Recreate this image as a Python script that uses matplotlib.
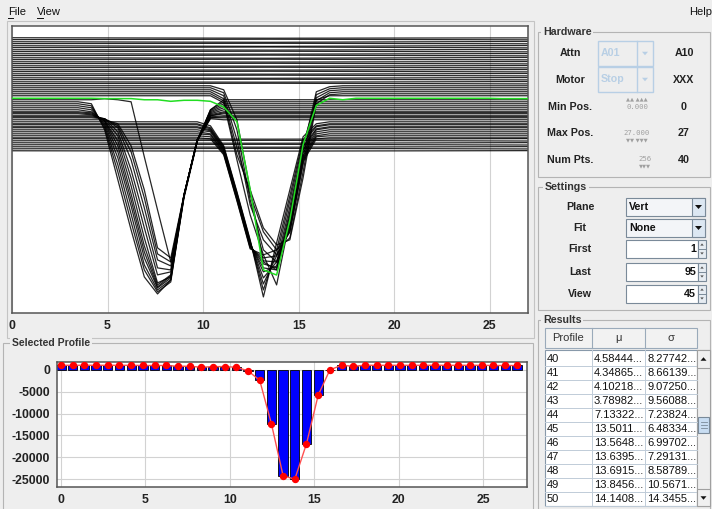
import numpy as np
import matplotlib
matplotlib.use('Agg')
import matplotlib.pyplot as plt
from matplotlib.patches import Rectangle, Polygon
from matplotlib.lines import Line2D

# ---------------- data ----------------
min_pos, max_pos, num_pts = 0.0, 27.0, 40
positions = np.linspace(min_pos, max_pos, num_pts)

# selected profile (View = 45), counts per position
selected_profile = [1050, 1050, 1050, 1050, 1050, 1050, 1050, 1000, 1000, 1000,
                    830, 830, 600, 750, 750, 600, -230, -2400, -12350, -24250,
                    -25000, -16900, -5800, 0, 1050, 830, 1050, 1050, 1050, 1050,
                    1050, 1050, 1050, 1050, 1050, 1050, 1050, 1000, 1000, 1000]

# profiles without a dip: level read at left edge, middle and right edge
flat_x = [min_pos, (min_pos + max_pos) / 2, max_pos]
flat_left = [9970, 9690, 9380, 9100, 8790, 8510, 8200, 7920, 7610, 7330, 7020, 6740,
             6430, 6150, 5840, 5560, 5250, 4970, 4660, 4380, 4070, 3790, 3480, 3200,
             -4920, -5220, -5510, -5810, -6100, -6400, -6690]
flat_mid = [9900, 9750, 9300, 9150, 8700, 8600, 8150, 7980, 7550, 7400, 6950, 6800,
            6380, 6200, 5780, 5620, 5200, 5030, 4600, 4450, 4000, 3850, 3420, 3260,
            -4980, -5150, -5580, -5740, -6160, -6330, -6740]
flat_right = [9950, 9660, 9420, 9080, 8820, 8480, 8240, 7890, 7640, 7300, 7060, 6710,
              6460, 6120, 5870, 5530, 5280, 4940, 4700, 4350, 4100, 3760, 3510, 3170,
              -4900, -5250, -5490, -5840, -6080, -6420, -6670]

# profiles with a dip near position 7.6 : baseline, values at points 6..15
dip1_start = 6
dip1_base = [530, 240, -60, -350, -650, -940, -1090, -1240, -1530, -1680, -1830, -2120, 830]
dip1_vals = [
    [240, -3600, -10970, -18350, -25280, -27790, -25720, -13630, -5370, -650],
    [-60, -3300, -9790, -17170, -24250, -27490, -26020, -13480, -5220, -790],
    [-350, -3010, -8760, -15990, -23510, -27200, -25720, -13330, -5070, -940],
    [-650, -2710, -7730, -14810, -22480, -26900, -25430, -13330, -5220, -1090],
    [-940, -2420, -6840, -13920, -21590, -26750, -25130, -13180, -5070, -1240],
    [-1090, -2270, -5960, -13040, -20710, -26460, -24980, -13180, -5220, -1380],
    [-1240, -2270, -5220, -11860, -19530, -26160, -25280, -13330, -5070, -1530],
    [-1380, -2120, -4480, -10680, -18050, -24980, -24540, -13180, -5220, -1530],
    [-1530, -1970, -3890, -9500, -16580, -23950, -24250, -13330, -5070, -1680],
    [-1680, -1970, -3300, -8020, -15100, -22770, -23660, -13180, -5220, -1830],
    [-1830, -1970, -3010, -6840, -13630, -21890, -23070, -13330, -5070, -1830],
    [-2120, -2120, -2710, -5960, -12450, -21000, -22480, -13180, -5220, -1970],
    [830, 980, 830, 530, -7580, -15400, -23070, -13330, -5220, -650],
]

# profiles with a dip near position 13.5 : baseline, values at points 15..24
dip2_start = 15
dip2_base = [2890, 2600, 2300, 2010, 1710, 1420,
             -2420, -2710, -2860, -3150, -3300, -3600, -3890, -4190, -4480, -4780]
dip2_vals = [
    [2890, 2300, -2120, -12450, -23070, -24250, -16130, -6550, 2010, 2750],
    [2600, 1860, -3600, -13920, -21300, -23070, -17610, -7730, 1570, 2450],
    [2300, 1420, -5070, -14660, -19820, -22030, -18640, -8760, 1120, 2160],
    [2010, 980, -6250, -13180, -18640, -21300, -19530, -9790, 680, 1860],
    [1710, 680, -7280, -12450, -18050, -20560, -19820, -10680, 240, 1570],
    [1420, 390, -8020, -16130, -22030, -26460, -16870, -5810, 830, 1420],
    [-3010, -5960, -12740, -19820, -28230, -20260, -12450, -4630, -2710, -2420],
    [-3300, -6100, -12890, -19970, -27200, -21300, -13330, -5070, -3010, -2710],
    [-3450, -6250, -13040, -20120, -26310, -22180, -14070, -5510, -3150, -2860],
    [-3600, -6400, -13180, -20260, -25430, -23070, -14950, -6100, -3450, -3150],
    [-3740, -6550, -13330, -20410, -24540, -23660, -15690, -6550, -3600, -3300],
    [-3890, -6690, -13480, -20560, -23950, -24250, -16580, -6990, -3890, -3600],
    [-4190, -6840, -13630, -20710, -23360, -23950, -17460, -7430, -4190, -3890],
    [-4330, -6990, -13770, -20850, -22920, -23070, -18050, -7730, -4480, -4190],
    [-4630, -7140, -13920, -21000, -22480, -22180, -18350, -8020, -4630, -4480],
    [-4920, -7280, -14070, -21150, -22030, -21300, -18640, -8320, -4920, -4780],
]

top_xticks = [0, 5, 10, 15, 20, 25]
bot_yticks = [0, -5000, -10000, -15000, -20000, -25000]
bot_ylabels = ['0', '-5000', '-10000', '-15000', '-20000', '-25000']

# GUI texts
hw_labels = ['Attn', 'Motor', 'Min Pos.', 'Max Pos.', 'Num Pts.']
hw_values = ['A10', 'XXX', '0', '27', '40']
hw_combo = ['A01', 'Stop']
hw_spin = ['0.000', '27.000', '256']
set_labels = ['Plane', 'Fit', 'First', 'Last', 'View']
set_values = ['Vert', 'None', '1', '95', '45']
res_headers = ['Profile', 'μ', 'σ']
res_profile = ['40', '41', '42', '43', '44', '45', '46', '47', '48', '49', '50']
res_mu = ['4.58444...', '4.34865...', '4.10218...', '3.78982...', '7.13322...', '13.5011...',
          '13.5648...', '13.6395...', '13.6915...', '13.8456...', '14.1408...']
res_sigma = ['8.27742...', '8.66139...', '9.07250...', '9.56088...', '7.23824...', '6.48334...',
             '6.99702...', '7.29131...', '8.58789...', '10.5671...', '14.3455...']

# ---------------- figure helpers ----------------
W, H = 712, 509
BG = '#EEEEEE'
FONT = ['Liberation Sans', 'DejaVu Sans']
plt.rcParams['font.family'] = FONT
plt.rcParams['axes.unicode_minus'] = False

fig = plt.figure(figsize=(W / 100, H / 100), dpi=100, facecolor=BG)


def FX(x):
    return x / W


def FY(y):
    return 1 - y / H


def box(x0, y0, x1, y1, fc='none', ec='#A8A8A8', lw=0.8, z=1):
    fig.add_artist(Rectangle((FX(x0), FY(y1)), (x1 - x0) / W, (y1 - y0) / H,
                             transform=fig.transFigure, facecolor=fc, edgecolor=ec,
                             linewidth=lw, zorder=z))


def line(xs, ys, color, lw=0.8, z=2):
    fig.add_artist(Line2D([FX(x) for x in xs], [FY(y) for y in ys],
                          transform=fig.transFigure, color=color, lw=lw, zorder=z))


def txt(x, y, s, size=7.7, weight='bold', color='#222222', ha='left', va='center',
        z=5, bg=None, family=None):
    kw = {}
    if bg is not None:
        kw['bbox'] = dict(facecolor=bg, edgecolor='none', pad=1.2)
    fig.text(FX(x), FY(y), s, fontsize=size, fontweight=weight, color=color, ha=ha,
             va=va, zorder=z, family=family or FONT, **kw)


def tri(cx, cy, w, h, color, up=False, z=6):
    if up:
        pts = [(cx - w / 2, cy + h / 2), (cx + w / 2, cy + h / 2), (cx, cy - h / 2)]
    else:
        pts = [(cx - w / 2, cy - h / 2), (cx + w / 2, cy - h / 2), (cx, cy + h / 2)]
    fig.add_artist(Polygon([(FX(a), FY(b)) for a, b in pts], closed=True,
                           transform=fig.transFigure, facecolor=color,
                           edgecolor='none', zorder=z))


# ---------------- menu ----------------
txt(8, 12, 'File', size=8, weight='normal', color='#111111')
line([8, 13], [17.5, 17.5], '#111111', lw=0.7)
txt(37, 12, 'View', size=8, weight='normal', color='#111111')
line([37, 43], [17.5, 17.5], '#111111', lw=0.7)
txt(689, 12, 'Help', size=8, weight='normal', color='#111111')

# ---------------- panels ----------------
box(7, 21, 534, 338, ec='#C4C4C4')
box(3, 343, 533, 515, ec='#B4B4B4')
txt(12, 343, 'Selected Profile', size=7.5, color='#333333', bg=BG)

# ---------------- top chart ----------------
LW, AL = 0.9, 0.85
ax1 = fig.add_axes([FX(12), FY(313), (528 - 12) / W, (313 - 26) / H])
ax1.set_facecolor('white')
ax1.set_xlim(min_pos, max_pos)
ax1.set_ylim(-30600, 11700)
for l, m, r in zip(flat_left, flat_mid, flat_right):
    ax1.plot(flat_x, [l, m, r], color='black', lw=LW, alpha=AL, zorder=2)
for b, seg in zip(dip1_base, dip1_vals):
    vals = [b] * num_pts
    vals[dip1_start:dip1_start + len(seg)] = seg
    ax1.plot(positions, vals, color='black', lw=LW, alpha=AL, zorder=2)
for b, seg in zip(dip2_base, dip2_vals):
    vals = [b] * num_pts
    vals[dip2_start:dip2_start + len(seg)] = seg
    ax1.plot(positions, vals, color='black', lw=LW, alpha=AL, zorder=2)
ax1.plot(positions, selected_profile, color='#22DD22', lw=1.1, zorder=3)
ax1.set_xticks(top_xticks)
ax1.set_xticklabels([str(t) for t in top_xticks], fontsize=8.8, fontweight='bold')
ax1.set_yticks([])
ax1.tick_params(axis='x', length=0, pad=5, colors='#222222')
ax1.grid(axis='x', color='#D2D2D2', lw=0.8)
ax1.set_axisbelow(True)
for sp in ax1.spines.values():
    sp.set_color('#555555')
    sp.set_linewidth(1.1)

# ---------------- bottom chart ----------------
ax2 = fig.add_axes([FX(57), FY(487), (527 - 57) / W, (487 - 362) / H])
ax2.set_facecolor('white')
ax2.bar(positions, selected_profile, width=0.55, color='#0000FF', edgecolor='black',
        linewidth=0.6, zorder=2)
ax2.plot(positions, selected_profile, color='#FF5050', lw=1.0, marker='o', ms=4.3,
         mfc='#FF0000', mec='#FF0000', zorder=3)
ax2.set_xlim(-0.24, 27.6)
ax2.set_ylim(-26800, 1800)
ax2.set_xticks(top_xticks)
ax2.set_xticklabels([str(t) for t in top_xticks], fontsize=8.8, fontweight='bold')
ax2.set_yticks(bot_yticks)
ax2.set_yticklabels(bot_ylabels, fontsize=8.8, fontweight='bold')
ax2.tick_params(length=0, pad=5, colors='#222222')
ax2.grid(color='#D2D2D2', lw=0.8)
ax2.set_axisbelow(True)
for sp in ax2.spines.values():
    sp.set_color('#555555')
    sp.set_linewidth(1.1)

# ---------------- Hardware panel ----------------
box(538, 32, 710, 177, ec='#B4B4B4')
txt(543, 32, 'Hardware', color='#333333', bg=BG)
row_y = [53, 80, 107, 133, 160]
for lab, val, y in zip(hw_labels, hw_values, row_y):
    txt(570, y, lab, ha='center')
    txt(684, y, val, ha='center')
for s, (y0, y1) in zip(hw_combo, [(41, 66), (67, 92)]):
    box(598, y0, 653, y1, fc=BG, ec='#B8CFE5', lw=1.0, z=2)
    line([637, 637], [y0, y1], '#B8CFE5', lw=1.0, z=3)
    txt(601, (y0 + y1) / 2, s, color='#B8CFE5', size=7.7)
    tri(645, (y0 + y1) / 2, 6, 3.5, '#B8CFE5')
mono = ['DejaVu Sans Mono']
txt(637, 99, '▲▲ ▲▲▲', size=3.8, weight='normal', color='#A0A0A0', ha='center', family=['DejaVu Sans'])
txt(637, 107, hw_spin[0], size=5.2, weight='normal', color='#A0A0A0', ha='center', family=mono)
txt(637, 133, hw_spin[1], size=5.2, weight='normal', color='#A0A0A0', ha='center', family=mono)
txt(637, 140, '▼▼ ▼▼▼', size=3.8, weight='normal', color='#A0A0A0', ha='center', family=['DejaVu Sans'])
txt(645, 159, hw_spin[2], size=5.2, weight='normal', color='#A0A0A0', ha='center', family=mono)
txt(645, 166, '▼▼▼', size=3.8, weight='normal', color='#A0A0A0', ha='center', family=['DejaVu Sans'])

# ---------------- Settings panel ----------------
box(538, 187, 710, 310, ec='#B4B4B4')
txt(545, 187, 'Settings', color='#333333', bg=BG)
set_rows = [(198, 216), (219, 237), (240, 258), (263, 281), (285, 303)]
for i, (lab, val, (y0, y1)) in enumerate(zip(set_labels, set_values, set_rows)):
    yc = (y0 + y1) / 2
    txt(580, yc, lab, ha='center')
    if i < 2:
        box(626, y0, 705, y1, fc='#F3F5F8', ec='#7A8A99', z=2)
        box(692, y0, 705, y1, fc='#DCE7F2', ec='#7A8A99', z=3)
        tri(698.5, yc, 7, 4, '#111111')
        txt(629, yc, val, color='#111111')
    else:
        box(626, y0, 698, y1, fc='white', ec='#7A8A99', z=2)
        box(698, y0, 706, y1, fc='#E6ECF2', ec='#7A8A99', z=3)
        line([698, 706], [yc, yc], '#7A8A99', lw=0.7, z=4)
        tri(702, y0 + 4.5, 3.5, 2.2, '#555555', up=True)
        tri(702, y1 - 4.5, 3.5, 2.2, '#555555')
        txt(696, yc, val, color='#111111', ha='right')

# ---------------- Results panel ----------------
box(538, 320, 710, 515, ec='#B4B4B4')
txt(543, 320, 'Results', color='#333333', bg=BG)
box(545, 328, 697, 348, fc='#F2F2F2', ec='#9AAABA', z=2)
for xv in [592, 645]:
    line([xv, xv], [328, 348], '#9AAABA', z=3)
for h, xc in zip(res_headers, [568, 618, 671]):
    txt(xc, 338, h, size=8, weight='normal', color='#333333', ha='center')
box(545, 350, 697, 506, fc='white', ec='#8899AA', z=2)
row_h = 14
for i, (p, m, s) in enumerate(zip(res_profile, res_mu, res_sigma)):
    top = 352 + row_h * i
    yc = top + row_h / 2
    line([545, 697], [top + row_h, top + row_h], '#C0CCD8', lw=0.7, z=3)
    txt(547, yc, p, size=8, weight='normal', color='#111111')
    txt(594, yc, m, size=8, weight='normal', color='#111111')
    txt(647, yc, s, size=8, weight='normal', color='#111111')
for xv in [592, 645]:
    line([xv, xv], [350, 506], '#C0CCD8', lw=0.7, z=3)
# scrollbar
box(697, 350, 710, 506, fc='#EEEEEE', ec='#A0A0A0', z=2)
box(697, 350, 710, 368, fc='#F0F0F0', ec='#A0A0A0', z=3)
tri(703.5, 359, 6, 3.5, '#111111', up=True)
box(697, 489, 710, 506, fc='#F0F0F0', ec='#A0A0A0', z=3)
tri(703.5, 498, 6, 3.5, '#111111')
box(698, 417, 709, 433, fc='#C8DDF2', ec='#7A8A99', z=3)
for yv in [422, 425, 428]:
    line([700.5, 706.5], [yv, yv], '#7A8A99', lw=0.6, z=4)

fig.savefig('out.png', dpi=100, facecolor=BG)
